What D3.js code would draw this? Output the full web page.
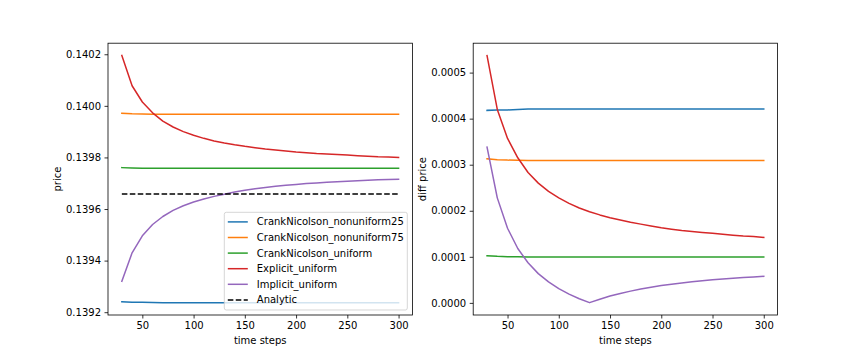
<!DOCTYPE html>
<html><head><meta charset="utf-8">
<script src="https://cdn.jsdelivr.net/npm/d3@7"></script>
<style>body{margin:0;background:#fff}</style>
</head><body><svg id="c" width="864" height="360"></svg>
<script>
const steps = [30,40,50,60,70,80,90,100,110,120,130,140,150,160,170,180,190,200,210,220,230,240,250,260,270,280,290,300];
const seriesNames = ["CrankNicolson_nonuniform25","CrankNicolson_nonuniform75","CrankNicolson_uniform","Explicit_uniform","Implicit_uniform"];
const analyticPrice = 0.139658;
const priceCN25 = [0.139240,0.139239,0.139239,0.139238,0.139237,0.139237,0.139237,0.139237,0.139237,0.139237,0.139237,0.139237,0.139237,0.139237,0.139237,0.139237,0.139237,0.139237,0.139237,0.139237,0.139237,0.139237,0.139237,0.139237,0.139237,0.139237,0.139237,0.139237];
const priceCN75 = [0.139971,0.139969,0.139968,0.1399675,0.139967,0.139967,0.139967,0.139967,0.139967,0.139967,0.139967,0.139967,0.139967,0.139967,0.139967,0.139967,0.139967,0.139967,0.139967,0.139967,0.139967,0.139967,0.139967,0.139967,0.139967,0.139967,0.139967,0.139967];
const priceCNU = [0.1397604,0.139759,0.1397583,0.1397579,0.1397576,0.1397576,0.1397576,0.1397576,0.1397576,0.1397576,0.1397576,0.1397576,0.1397576,0.1397576,0.1397576,0.1397576,0.1397576,0.1397576,0.1397576,0.1397576,0.1397576,0.1397576,0.1397576,0.1397576,0.1397576,0.1397576,0.1397576,0.1397576];
const priceExp = [0.140195,0.140078,0.140015,0.139973,0.139941,0.139918,0.139900,0.139886,0.139874,0.139864,0.139856,0.139849,0.139843,0.139838,0.139833,0.139829,0.139825,0.139821,0.139818,0.139815,0.139813,0.139811,0.139809,0.139807,0.139805,0.139803,0.139802,0.139800];
const priceImp = [0.139320,0.139430,0.139496,0.139540,0.139571,0.1395945,0.1396125,0.139627,0.139639,0.139649,0.1396575,0.139666,0.1396728,0.1396785,0.1396835,0.139688,0.139692,0.1396955,0.1396985,0.1397012,0.1397037,0.139706,0.139708,0.1397098,0.1397115,0.139713,0.1397144,0.1397156];
const diffCN25 = [0.000418,0.000419,0.000419,0.000420,0.000421,0.000421,0.000421,0.000421,0.000421,0.000421,0.000421,0.000421,0.000421,0.000421,0.000421,0.000421,0.000421,0.000421,0.000421,0.000421,0.000421,0.000421,0.000421,0.000421,0.000421,0.000421,0.000421,0.000421];
const diffCN75 = [0.000313,0.000311,0.000310,0.0003095,0.000309,0.000309,0.000309,0.000309,0.000309,0.000309,0.000309,0.000309,0.000309,0.000309,0.000309,0.000309,0.000309,0.000309,0.000309,0.000309,0.000309,0.000309,0.000309,0.000309,0.000309,0.000309,0.000309,0.000309];
const diffCNU = [0.0001024,0.0001010,0.0001003,0.0000999,0.0000996,0.0000996,0.0000996,0.0000996,0.0000996,0.0000996,0.0000996,0.0000996,0.0000996,0.0000996,0.0000996,0.0000996,0.0000996,0.0000996,0.0000996,0.0000996,0.0000996,0.0000996,0.0000996,0.0000996,0.0000996,0.0000996,0.0000996,0.0000996];
const diffExp = [0.000537,0.000420,0.000357,0.000315,0.000283,0.000260,0.000242,0.000228,0.000216,0.000206,0.000198,0.000191,0.000185,0.000180,0.000175,0.000171,0.000167,0.000163,0.000160,0.000157,0.000155,0.000153,0.000151,0.000149,0.000147,0.000145,0.000144,0.000142];
const diffImp = [0.000338,0.000228,0.000162,0.000118,0.0000870,0.0000635,0.0000455,0.0000310,0.0000190,0.0000090,0.0000005,0.0000080,0.0000148,0.0000205,0.0000255,0.0000300,0.0000340,0.0000375,0.0000405,0.0000432,0.0000457,0.0000480,0.0000500,0.0000518,0.0000535,0.0000550,0.0000564,0.0000576];
const xTicks = [50,100,150,200,250,300];
const priceTicks = [0.1392,0.1394,0.1396,0.1398,0.1400,0.1402];
const diffTicks = [0.0000,0.0001,0.0002,0.0003,0.0004,0.0005];
const colors = ["#1f77b4","#ff7f0e","#2ca02c","#d62728","#9467bd"];

const svg = d3.select("#c");
const plotTop = 43.2, plotBottom = 315;
const FONT = "'DejaVu Sans'";

function pad(ext){const r=ext[1]-ext[0];return [ext[0]-0.05*r, ext[1]+0.05*r];}
function styleText(sel){return sel.style("font-family",FONT).style("font-size","10px").style("fill","#000");}

function panel(x0, x1, seriesArr, ticks, ylabel, ylabelX, withAnalytic, withLegend){
  const xs = d3.scaleLinear().domain(pad([steps[0], steps[steps.length-1]])).range([x0, x1]);
  const all = seriesArr.flat();
  const ys = d3.scaleLinear().domain(pad(d3.extent(all))).range([plotBottom, plotTop]);
  const g = svg.append("g");
  const line = d3.line().x((d,i)=>xs(steps[i])).y(d=>ys(d));
  seriesArr.forEach((s,k)=>{
    g.append("path").attr("d", line(s)).attr("fill","none").attr("stroke",colors[k]).attr("stroke-width",1.5).attr("stroke-linejoin","round").attr("stroke-linecap","square");
  });
  if(withAnalytic){
    g.append("path").attr("d", line(steps.map(()=>analyticPrice))).attr("fill","none").attr("stroke","#000").attr("stroke-width",1.5).attr("stroke-dasharray","5.55,2.4");
  }
  const ax = g.append("g").attr("transform",`translate(0,${plotBottom})`).call(d3.axisBottom(xs).tickValues(xTicks).tickSize(3.5).tickPadding(3.5).tickFormat(d3.format("d")));
  const ay = g.append("g").attr("transform",`translate(${x0},0)`).call(d3.axisLeft(ys).tickValues(ticks).tickSize(3.5).tickPadding(3.5).tickFormat(d3.format(".4f")));
  [ax,ay].forEach(a=>{a.select(".domain").remove();a.selectAll("line").attr("stroke","#000").attr("stroke-width",0.8);styleText(a.selectAll("text"));});
  g.append("rect").attr("x",x0).attr("y",plotTop).attr("width",x1-x0).attr("height",plotBottom-plotTop).attr("fill","none").attr("stroke","#000").attr("stroke-width",0.8);
  styleText(g.append("text").attr("x",(x0+x1)/2).attr("y",344).attr("text-anchor","middle").text("time steps"));
  styleText(g.append("text").attr("transform",`translate(${ylabelX},${(plotTop+plotBottom)/2}) rotate(-90)`).attr("text-anchor","middle").attr("dy","0.35em").text(ylabel));
  if(withLegend){
    const lg = g.append("g");
    const lx=224.3, ly=212.3, lw=183, lh=97.7;
    lg.append("rect").attr("x",lx).attr("y",ly).attr("width",lw).attr("height",lh).attr("rx",2).attr("fill","#fff").attr("fill-opacity",0.8).attr("stroke","#ccc").attr("stroke-opacity",0.8).attr("stroke-width",1);
    const names = seriesNames.concat(["Analytic"]);
    const cols = colors.concat(["#000"]);
    names.forEach((n,i)=>{
      const yy = ly + 9.6 + i*15.6;
      const l = lg.append("line").attr("x1",lx+3.5).attr("x2",lx+23.5).attr("y1",yy).attr("y2",yy).attr("stroke",cols[i]).attr("stroke-width",1.5);
      if(i===5) l.attr("stroke-dasharray","5.55,2.4");
      styleText(lg.append("text").attr("x",lx+32.5).attr("y",yy).attr("dy","0.35em").text(n));
    });
  }
}
panel(108, 412.4, [priceCN25,priceCN75,priceCNU,priceExp,priceImp], priceTicks, "price", 57, true, true);
panel(473.2, 777.6, [diffCN25,diffCN75,diffCNU,diffExp,diffImp], diffTicks, "diff price", 422, false, false);
</script></body></html>
